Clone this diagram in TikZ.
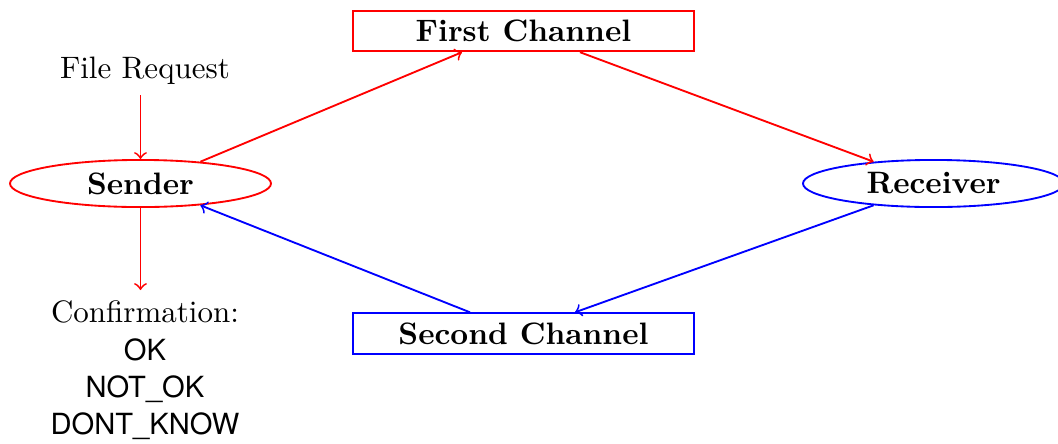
\documentclass[tikz,border=0pt]{standalone}
\usepackage{fontspec}
\setsansfont[Scale=0.94]{TeX Gyre Heros}
\usetikzlibrary{shapes.geometric,calc}
\begin{document}
\begin{tikzpicture}[x=0.3226pt,y=-0.3226pt,
  redbox/.style={draw=red,semithick,rectangle,minimum width=110pt,inner ysep=3pt,font=\bfseries},
  bluebox/.style={draw=blue,semithick,rectangle,minimum width=110pt,inner ysep=3pt,font=\bfseries},
  redell/.style={draw=red,semithick,ellipse,minimum width=84.2pt,minimum height=15.2pt,inner sep=0pt,font=\bfseries},
  blueell/.style={draw=blue,semithick,ellipse,minimum width=84.2pt,minimum height=15.2pt,inner sep=0pt,font=\bfseries},
  redarr/.style={->,red,semithick},
  bluearr/.style={->,blue,semithick}]
\useasboundingbox (0,0) rectangle (1058,443);
\node[redbox] (fc) at (523.5,31) {First Channel};
\node[bluebox] (sc) at (523.5,333.5) {Second Channel};
\node[redell] (sender) at (140.5,183.5) {Sender};
\node[blueell] (receiver) at (933.5,183.5) {Receiver};
\node[anchor=south] (fr) at (145,95) {File Request};
\node[anchor=north,align=center] (conf) at (145,290) {Confirmation:\\ \textsf{OK}\\ \textsf{NOT\_OK}\\ \textsf{DONT\_KNOW}};
\draw[redarr] (sender.north |- fr.south) -- (sender.north);
\draw[redarr] (sender.south) -- (sender.south |- conf.north);
\draw[redarr] (sender.20) -- ($(fc.south)+(-61.5,0)$);
\draw[redarr] ($(fc.south)+(56.5,0)$) -- (receiver.160);
\draw[bluearr] (receiver.200) -- ($(sc.north)+(51.5,0)$);
\draw[bluearr] ($(sc.north)+(-53.5,0)$) -- (sender.340);
\end{tikzpicture}
\end{document}
